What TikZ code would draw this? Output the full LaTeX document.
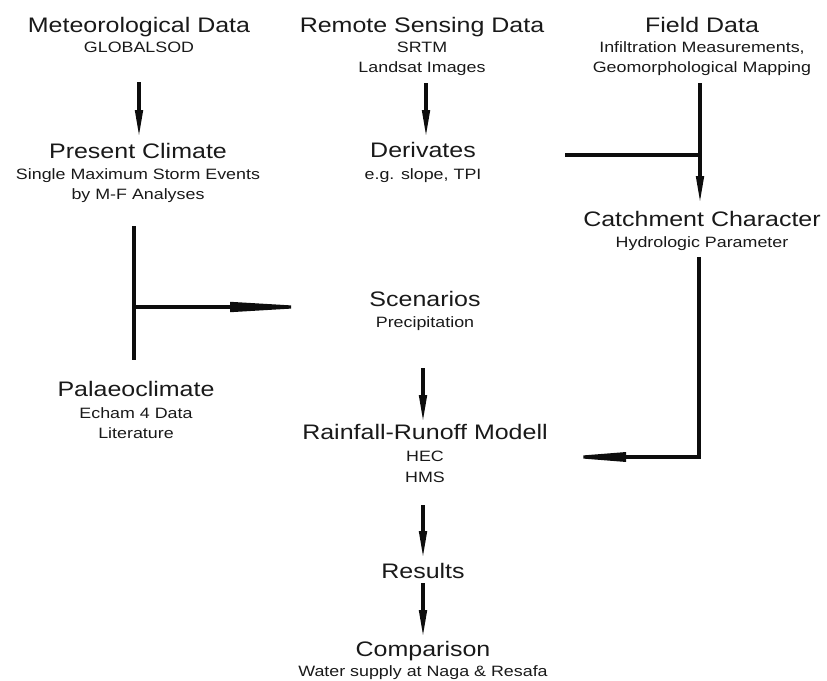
\documentclass[tikz,border=0pt]{standalone}
\usepackage{fontspec}
\setmainfont{Liberation Sans}[FakeStretch=1.19]
\usetikzlibrary{arrows.meta}
\definecolor{ink}{RGB}{25,25,25}
\tikzset{
  ttl/.style={anchor=base, inner sep=0pt, text=ink, font=\fontsize{21}{24}\selectfont},
  sub/.style={anchor=base, inner sep=0pt, text=ink, font=\fontsize{15}{20}\selectfont},
  ln/.style={line width=3.2pt, draw=black!95},
  arr/.style={ln, -{Triangle[length=27pt,width=7.5pt]}},
  arrlong/.style={ln, -{Triangle[length=92pt,width=9.5pt]}},
  arrmid/.style={ln, -{Triangle[length=66pt,width=9pt]}},
}
\begin{document}
\begin{tikzpicture}[x=1pt,y=-1pt]
\useasboundingbox (0,0) rectangle (827,680);
% texts
\node[ttl] (met) at (139,32) {Meteorological Data};
\node[sub] (metA) at (139,52) {GLOBALSOD};
\node[ttl] (rsd) at (422,32) {Remote Sensing Data};
\node[sub] (rsdA) at (422,52) {SRTM};
\node[sub] (rsdB) at (422,72) {Landsat Images};
\node[ttl] (fld) at (702,32) {Field Data};
\node[sub] (fldA) at (702,52) {Infiltration Measurements,};
\node[sub] (fldB) at (702,72) {Geomorphological Mapping};
\node[ttl] (pc) at (138,158) {Present Climate};
\node[sub] (pcA) at (138,179) {Single Maximum Storm Events};
\node[sub] (pcB) at (138,199) {by M-F Analyses};
\node[ttl] (der) at (423,157) {Derivates};
\node[sub] (derA) at (423,179) {e.g. slope, TPI};
\node[ttl] (cat) at (702,226) {Catchment Character};
\node[sub] (catA) at (702,247) {Hydrologic Parameter};
\node[ttl] (scn) at (425,306) {Scenarios};
\node[sub] (scnA) at (425,327) {Precipitation};
\node[ttl] (pal) at (136,396) {Palaeoclimate};
\node[sub] (palA) at (136,418) {Echam 4 Data};
\node[sub] (palB) at (136,438) {Literature};
\node[ttl] (rr) at (425,439) {Rainfall-Runoff Modell};
\node[sub] (rrA) at (425,461) {HEC};
\node[sub] (rrB) at (425,482) {HMS};
\node[ttl] (res) at (423,578) {Results};
\node[ttl] (cmp) at (423,656) {Comparison};
\node[sub] (cmpA) at (423,676) {Water supply at Naga \& Resafa};
% connector points
\coordinate (a1s) at (139,82);  \coordinate (a1e) at (139,137);
\coordinate (a2s) at (426,83);  \coordinate (a2e) at (426,137);
\coordinate (fs) at (700,83);   \coordinate (fe) at (700,203);
\coordinate (fj) at (700,155);  \coordinate (ds) at (565,155);
\coordinate (ptop) at (134,226); \coordinate (pbot) at (134,360);
\coordinate (pj) at (134,307);  \coordinate (pe) at (322,307);
\coordinate (a3s) at (423,368); \coordinate (a3e) at (423,422);
\coordinate (cs) at (699,257);  \coordinate (cc) at (699,457); \coordinate (ce) at (560,457);
\coordinate (a4s) at (423,505); \coordinate (a4e) at (423,558);
\coordinate (a5s) at (423,583); \coordinate (a5e) at (423,637);
% connectors
\draw[arr] (a1s) -- (a1e);
\draw[arr] (a2s) -- (a2e);
\draw[arr] (fs) -- (fe);
\draw[ln] (ds) -- (fj);
\draw[ln] (ptop) -- (pbot);
\draw[arrlong] (pj) -- (pe);
\draw[arr] (a3s) -- (a3e);
\draw[arrmid, line join=miter] (cs) -- (cc) -- (ce);
\draw[arr] (a4s) -- (a4e);
\draw[arr] (a5s) -- (a5e);
\end{tikzpicture}
\end{document}
